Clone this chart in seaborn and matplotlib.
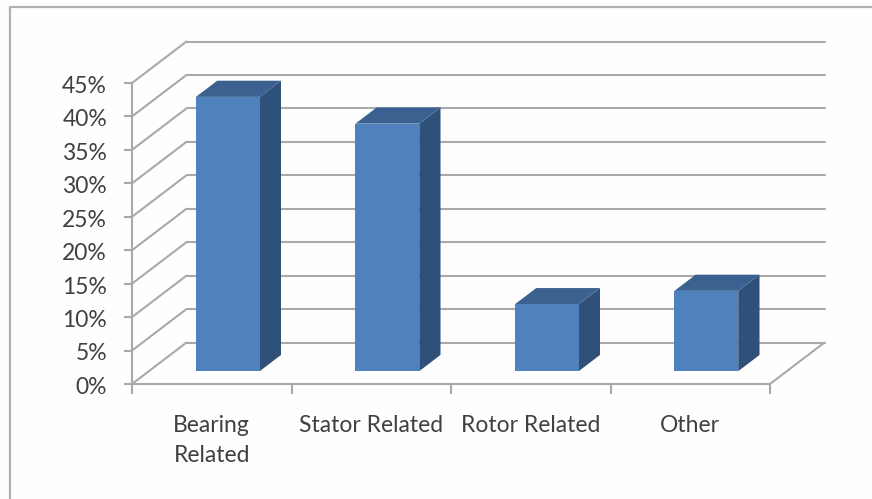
import matplotlib
matplotlib.use("Agg")
import matplotlib.pyplot as plt
import seaborn as sns
from matplotlib.lines import Line2D
from matplotlib.patches import Polygon
from matplotlib.transforms import Affine2D, ScaledTranslation

categories = ["Bearing\nRelated", "Stator Related", "Rotor Related", "Other"]
shares = [41, 37, 10, 12]
percent_ticks = [0, 5, 10, 15, 20, 25, 30, 35, 40, 45]

FRONT = "#4f81bd"
SIDE = "#2f5078"
TOP = "#3a6190"
GRID = "#a9a9a9"
TEXT = "#404040"

# Oblique projection of the chart box, in pixels
WALL_DX, WALL_DY = 54.5, 41.5
BAR_SHIFT = 0.31
BAR_DEPTH = 0.39

sns.set_theme(style="white")
plt.rcParams["font.family"] = ["Lato", "DejaVu Sans"]

W, H = 872, 499
fig = plt.figure(figsize=(W / 100, H / 100), dpi=100, facecolor="#fefefe")
ax = fig.add_axes([132 / W, (H - 384) / H, 638 / W, 301 / H])
ax.patch.set_alpha(0)

sns.barplot(x=categories, y=shares, color=FRONT, saturation=1, width=0.4, ax=ax, zorder=5)
ax.set_xlim(-0.5, len(categories) - 0.5)
ax.set_ylim(percent_ticks[0], percent_ticks[-1])


def depth(fraction):
    """Data transform pushed back into the box by a fraction of its depth."""
    return ax.transData + Affine2D().translate(fraction * WALL_DX - 0.8, fraction * WALL_DY)


# Back wall rules and the diagonals joining them to the front plane
x_lo, x_hi = ax.get_xlim()
wall = ax.transData + Affine2D().translate(WALL_DX, WALL_DY)
for value in percent_ticks:
    ax.plot([x_lo, x_hi], [value, value], transform=wall, color=GRID, lw=1.5, clip_on=False, zorder=1)
    sx, sy = ax.transData.transform((x_lo, value))
    ax.add_line(Line2D([sx, sx + WALL_DX], [sy, sy + WALL_DY], transform=None, color=GRID, lw=1.5,
                       clip_on=False, zorder=1))
ex, ey = ax.transData.transform((x_hi, percent_ticks[0]))
ax.add_line(Line2D([ex, ex + WALL_DX], [ey, ey + WALL_DY], transform=None, color=GRID, lw=1.5,
                   clip_on=False, zorder=1))

# Bars: shift the front faces back and add their side and top faces
for bar in ax.patches[: len(shares)]:
    bar.set_transform(depth(BAR_SHIFT))
    bar.set_clip_on(False)
    bar.set_edgecolor("none")
    x0, x1 = bar.get_x(), bar.get_x() + bar.get_width()
    top = bar.get_height()
    to_px = depth(BAR_SHIFT).transform
    (ax0, ay0), (ax1, ay1) = to_px((x0, 0)), to_px((x1, top))
    dx, dy = BAR_DEPTH * WALL_DX, BAR_DEPTH * WALL_DY
    side = [(ax1, ay0), (ax1 + dx, ay0 + dy), (ax1 + dx, ay1 + dy), (ax1, ay1)]
    lid = [(ax0, ay1), (ax1, ay1), (ax1 + dx, ay1 + dy), (ax0 + dx, ay1 + dy)]
    ax.add_patch(Polygon(side, closed=True, transform=None, facecolor=SIDE, edgecolor="none", clip_on=False, zorder=4))
    ax.add_patch(Polygon(lid, closed=True, transform=None, facecolor=TOP, edgecolor="none", clip_on=False, zorder=4))

# Axes
sns.despine(ax=ax, top=True, right=True)
for name in ("left", "bottom"):
    ax.spines[name].set_color(GRID)
    ax.spines[name].set_linewidth(1.5)

ax.set_yticks(percent_ticks)
ax.set_yticklabels([f"{v}%" for v in percent_ticks])
ax.tick_params(axis="y", length=6, width=1.5, color=GRID, labelcolor=TEXT, labelsize=16.5, pad=12, left=True)
ax.set_xticks(range(len(categories)))
ax.set_xticklabels(categories, linespacing=1.52)
ax.set_xticks([i - 0.5 for i in range(len(categories) + 1)], minor=True)
ax.tick_params(axis="x", which="major", length=0, labelcolor=TEXT, labelsize=16.5, pad=22.5)
ax.tick_params(axis="x", which="minor", length=7, width=1.5, color=GRID, bottom=True)
ax.set_xlabel("")
ax.set_ylabel("")

# Small downward nudge of the percent labels
nudge_down = ScaledTranslation(0, -1 / 72, fig.dpi_scale_trans)
for label in ax.get_yticklabels():
    label.set_transform(label.get_transform() + nudge_down)

# Outer chart frame, running off the right and bottom edges
fig.add_artist(Line2D([10 / W, 10 / W, 1], [0, (H - 7) / H, (H - 7) / H], color="#b0b0b0", lw=1.6))

fig.savefig("out.png", dpi=100, facecolor=fig.get_facecolor())
